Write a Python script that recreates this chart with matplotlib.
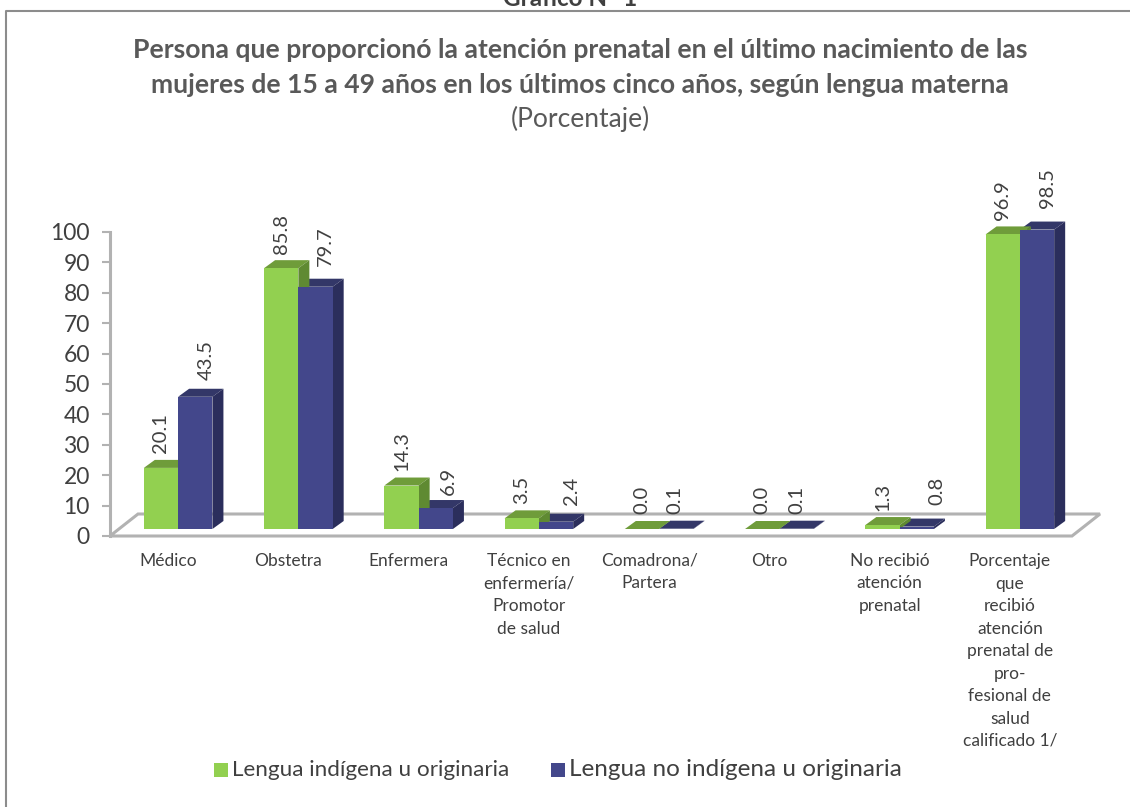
import matplotlib
matplotlib.use("Agg")
import matplotlib.pyplot as plt
from matplotlib.patches import Polygon, Rectangle
from matplotlib.lines import Line2D
import numpy as np

plt.rcParams['font.family'] = ['Lato', 'DejaVu Sans']

categorias = ["Médico", "Obstetra", "Enfermera",
              "Técnico en\nenfermería/\nPromotor\nde salud",
              "Comadrona/\nPartera", "Otro",
              "No recibió\natención\nprenatal",
              "Porcentaje\nque\nrecibió\natención\nprenatal de\npro-\nfesional de\nsalud\ncalificado 1/"]
indigena = [20.1, 85.8, 14.3, 3.5, 0.0, 0.0, 1.3, 96.9]
no_indigena = [43.5, 79.7, 6.9, 2.4, 0.1, 0.1, 0.8, 98.5]
serie1 = "Lengua indígena u originaria"
serie2 = "Lengua no indígena u originaria"
yticks = list(range(0, 101, 10))

W, H = 1130, 807
verde, verde_top, verde_lado = "#92D050", "#6F9C3A", "#5F8A32"
azul, azul_top, azul_lado = "#43478B", "#333768", "#2B2E5C"
gris = "#B2B2B2"
texto = "#404040"
titulo_color = "#595959"

fig = plt.figure(figsize=(W / 100, H / 100), dpi=100)

# marco exterior: solo arriba e izquierda
fig.add_artist(Line2D([6 / W, 6 / W, 1], [0, 1 - 11 / H, 1 - 11 / H], transform=fig.transFigure,
                      color="#8C8C8C", lw=1.5))

# eje en pixeles: 0 en y=536, 100 en y=232
ax = fig.add_axes([110 / W, 1 - 536 / H, 962 / W, 304 / H])
ax.set_xlim(0, 8)
ax.set_ylim(0, 100)
px = 8 / 962
py = 100 / 304

# piso
ax.add_patch(Polygon([(0, 0), (28 * px, 22 * py), (990 * px, 22 * py), (962 * px, 0)],
                     closed=True, fill=False, ec=gris, lw=2.2, clip_on=False, zorder=1))
ax.plot([0, 0], [0, 100], color=gris, lw=2.2, clip_on=False, zorder=1)

x = np.arange(len(categorias)) + 0.5 + 8 * px
w = 34.3 * px
base = 7 * py
dx, dy = 11 * px, 8 * py

def barras(xs, vals, color, top, lado):
    ax.bar(xs, vals, w, bottom=base, color=color, align="edge", zorder=3, clip_on=False)
    for xi, v in zip(xs, vals):
        tope = base + v
        ax.add_patch(Polygon([(xi, tope), (xi + dx, tope + dy), (xi + w + dx, tope + dy), (xi + w, tope)],
                             color=top, lw=0, zorder=2, clip_on=False))
        ax.add_patch(Polygon([(xi + w, base), (xi + w + dx, base + dy), (xi + w + dx, tope + dy), (xi + w, tope)],
                             color=lado, lw=0, zorder=2, clip_on=False))

barras(x, no_indigena, azul, azul_top, azul_lado)
barras(x - w, indigena, verde, verde_top, verde_lado)

# etiquetas de datos, movidas a mano como en el original (pixeles)
mov_x2 = [10.6, 10.3, 13, 15.8, -1.4, 0, 20, 10]
mov_y2 = [16.3, 21.2, 13.5, 17.2, 14.2, 14.2, 21.1, 21.1]
for i, (a, b) in enumerate(zip(indigena, no_indigena)):
    ax.annotate(f"{a:.1f}", (x[i] - w / 2, base + a), xytext=(0, 14.5), textcoords="offset pixels",
                rotation=90, ha="center", va="bottom", fontsize=14.5, color=texto, annotation_clip=False, zorder=5)
    ax.annotate(f"{b:.1f}", (x[i] + w / 2, base + b), xytext=(mov_x2[i], mov_y2[i]), textcoords="offset pixels",
                rotation=90, ha="center", va="bottom", fontsize=14.5, color=texto, annotation_clip=False, zorder=5)

# ejes
for s in ax.spines.values():
    s.set_visible(False)
ax.patch.set_visible(False)
ax.set_yticks(yticks)
ax.tick_params(axis="y", length=6, width=1.5, color=gris, labelsize=16.5, labelcolor=texto, pad=8.5)
ax.set_xticks([])
for xi, c in zip(np.arange(len(categorias)) + 0.5, categorias):
    fig.text((110 + xi * 962 / 8 - 2) / W, 1 - 553 / H, c, ha="center", va="top", fontsize=12.5,
             color=texto, linespacing=1.5)

# titulos
fig.text(570 / W, 1 + 1 / H, "Gráfico N° 1", ha="center", va="center", fontsize=17.5, fontweight="bold", color=texto)
fig.text(580 / W, 1 - 50 / H, "Persona que proporcionó la atención prenatal en el último nacimiento de las",
         ha="center", va="center", fontsize=19.1, fontweight="bold", color=titulo_color)
fig.text(580 / W, 1 - 85 / H, "mujeres de 15 a 49 años en los últimos cinco años, según lengua materna",
         ha="center", va="center", fontsize=19.1, fontweight="bold", color=titulo_color)
fig.text(580 / W, 1 - 119 / H, "(Porcentaje)", ha="center", va="center", fontsize=19.1, color=titulo_color)

# leyenda
fig.add_artist(Rectangle((214 / W, 1 - 777 / H), 14 / W, 14 / H, transform=fig.transFigure, color=verde, lw=0))
fig.text(232 / W, 1 - 770 / H, serie1, va="center", fontsize=16.2, color=texto)
fig.add_artist(Rectangle((551 / W, 1 - 777 / H), 14 / W, 14 / H, transform=fig.transFigure, color=azul, lw=0))
fig.text(569 / W, 1 - 770 / H, serie2, va="center", fontsize=17.5, color=texto)

fig.savefig("out.png", dpi=100)
